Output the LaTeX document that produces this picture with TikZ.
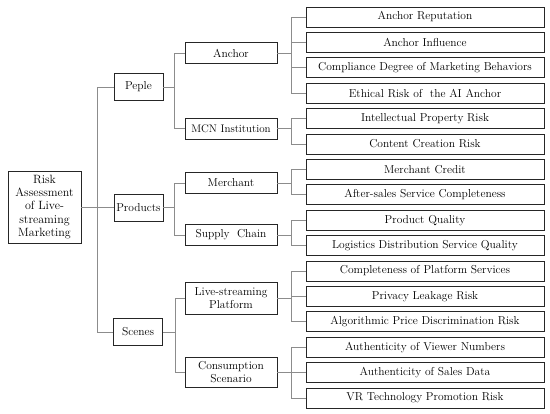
\documentclass[tikz,border=0pt]{standalone}
\usepackage{tikz}
\begin{document}
\begin{tikzpicture}[x=1pt,y=-1pt,
  box/.style={draw=black!85,line width=0.9pt,inner sep=1pt,align=center,font=\fontsize{11.5}{12.5}\selectfont},
  leaf/.style={box,minimum width=238pt,minimum height=20pt},
  mid/.style={box,minimum width=92pt,minimum height=21pt},
  top/.style={box,minimum width=49pt,minimum height=27pt},
  conn/.style={draw=black!45,line width=0.8pt}]
\useasboundingbox (0,0) rectangle (550,414);
% root
\node[box,minimum width=73pt,minimum height=72pt,font=\fontsize{12}{13.4}\selectfont] (root) at (44.5,207) {Risk\\Assessment\\of Live-\\streaming\\Marketing};
% level 1
\node[top] (peple) at (138.5,87) {Peple};
\node[top] (prod) at (138.5,207.5) {Products};
\node[top] (scen) at (138,332) {Scenes};
% level 2
\node[mid] (anc) at (231,53) {Anchor};
\node[mid,font=\fontsize{11}{12}\selectfont] (mcn) at (231,128.5) {MCN Institution};
\node[mid] (mer) at (231,183) {Merchant};
\node[mid] (sup) at (231,235) {Supply\ \ Chain};
\node[mid,minimum height=32pt] (lsp) at (231,298) {Live-streaming\\Platform};
\node[mid,minimum height=30pt] (con) at (231,372) {Consumption\\Scenario};
% leaves
\node[leaf] (l0) at (425,17) {Anchor Reputation};
\node[leaf] (l1) at (425,42.4) {Anchor Influence};
\node[leaf] (l2) at (425,67.8) {Compliance\ Degree\ of\ Marketing\ Behaviors};
\node[leaf] (l3) at (425,93.2) {Ethical Risk of\ \ the AI Anchor};
\node[leaf] (l4) at (425,118.6) {Intellectual Property Risk};
\node[leaf] (l5) at (425,144) {Content Creation Risk};
\node[leaf] (l6) at (425,169.4) {Merchant Credit};
\node[leaf] (l7) at (425,194.8) {After-sales Service Completeness};
\node[leaf] (l8) at (425,220.2) {Product Quality};
\node[leaf] (l9) at (425,245.6) {Logistics\ Distribution\ Service\ Quality};
\node[leaf] (l10) at (425,271) {Completeness\ of\ Platform\ Services};
\node[leaf] (l11) at (425,296.4) {Privacy\ Leakage\ Risk};
\node[leaf] (l12) at (425,321.8) {Algorithmic\ Price\ Discrimination\ Risk};
\node[leaf] (l13) at (425,347.2) {Authenticity\ of\ Viewer\ Numbers};
\node[leaf] (l14) at (425,372.6) {Authenticity\ of\ Sales\ Data};
\node[leaf] (l15) at (425,398) {VR Technology Promotion Risk};
% connectors: root -> level1
\draw[conn] (root.east) -- ++(16,0) coordinate (r1);
\draw[conn] (peple.west) -- (r1 |- peple) -- (r1 |- scen) -- (scen.west);
\draw[conn] (prod.west) -- (r1 |- prod);
% level1 -> level2
\draw[conn] (peple.east) -- ++(11,0) coordinate (p1);
\draw[conn] (anc.west) -- (p1 |- anc) -- (p1 |- mcn) -- (mcn.west);
\draw[conn] (prod.east) -- ++(11,0) coordinate (p2);
\draw[conn] (mer.west) -- (p2 |- mer) -- (p2 |- sup) -- (sup.west);
\draw[conn] (scen.east) -- ++(12,0) coordinate (p3);
\draw[conn] (lsp.west) -- (p3 |- lsp) -- (p3 |- con) -- (con.west);
% level2 -> leaves
\draw[conn] (anc.east) -- ++(14,0) coordinate (q1);
\draw[conn] (l0.west) -- (q1 |- l0) -- (q1 |- l3) -- (l3.west);
\draw[conn] (l1.west) -- (q1 |- l1);
\draw[conn] (l2.west) -- (q1 |- l2);
\draw[conn] (mcn.east) -- ++(14,0) coordinate (q2);
\draw[conn] (l4.west) -- (q2 |- l4) -- (q2 |- l5) -- (l5.west);
\draw[conn] (mer.east) -- ++(14,0) coordinate (q3);
\draw[conn] (l6.west) -- (q3 |- l6) -- (q3 |- l7) -- (l7.west);
\draw[conn] (sup.east) -- ++(14,0) coordinate (q4);
\draw[conn] (l8.west) -- (q4 |- l8) -- (q4 |- l9) -- (l9.west);
\draw[conn] (lsp.east) -- ++(14,0) coordinate (q5);
\draw[conn] (l10.west) -- (q5 |- l10) -- (q5 |- l12) -- (l12.west);
\draw[conn] (l11.west) -- (q5 |- l11);
\draw[conn] (con.east) -- ++(14,0) coordinate (q6);
\draw[conn] (l13.west) -- (q6 |- l13) -- (q6 |- l15) -- (l15.west);
\draw[conn] (l14.west) -- (q6 |- l14);
\end{tikzpicture}
\end{document}
